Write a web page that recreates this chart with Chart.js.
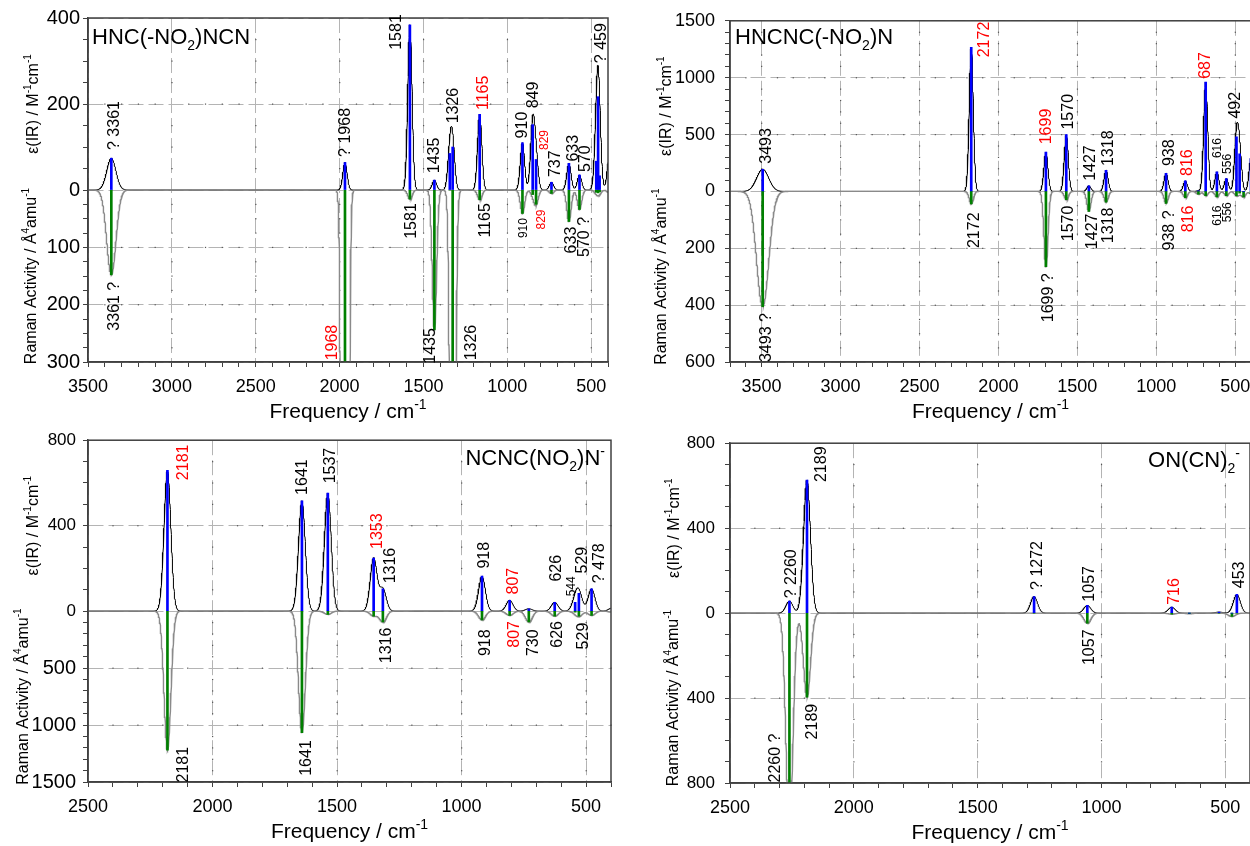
<!DOCTYPE html>
<html>
<head>
<meta charset="utf-8">
<script src="https://cdn.jsdelivr.net/npm/chart.js@4.4.0/dist/chart.umd.min.js"></script>
<style>
  html, body { margin: 0; padding: 0; background: #fff; }
  body { width: 1250px; height: 846px; overflow: hidden; position: relative; }
  .panel { position: absolute; }
</style>
</head>
<body>
<div class="panel" style="left:0;top:0"><canvas id="p1" width="625" height="423"></canvas></div>
<div class="panel" style="left:625px;top:0"><canvas id="p2" width="630" height="423"></canvas></div>
<div class="panel" style="left:0;top:423px"><canvas id="p3" width="625" height="423"></canvas></div>
<div class="panel" style="left:625px;top:423px"><canvas id="p4" width="630" height="423"></canvas></div>
<script>
const FONT = '"Liberation Sans", Arial, sans-serif';
const GRID = '#b4b4b4';
const AXIS = '#404040';
const BLUE = '#0000ff';
const GREEN = '#008000';
const RED = '#ff0000';

// ---- HNC(-NO2)NCN : band positions (cm-1), IR intensity, Raman activity
const freq1  = [3361, 1968, 1581, 1435, 1343, 1326, 1165, 910, 849, 829, 737, 633, 570, 470, 459, 450, 392];
const ir1    = [74, 64, 384, 23, 85, 100, 176, 110, 152, 71, 18, 62, 35, 67, 217, 33, 78];
const raman1 = [148, 4500, 16, 244, 0, 1200, 17, 41, 8, 25, 6, 55, 34, 4, 5, 3, 5];
const fwhm1 = 30, fwhmNH1 = 64;

// ---- HNCNC(-NO2)N
const freq2  = [3493, 2172, 1699, 1570, 1427, 1318, 938, 816, 733, 687, 616, 556, 492, 472, 447, 400];
const ir2    = [195, 1267, 345, 499, 49, 186, 159, 93, 6, 962, 171, 113, 480, 330, 0, 290];
const raman2 = [405, 44, 265, 29, 70, 38, 42, 22, 10, 15, 19, 15, 15, 6, 19, 8];
const fwhm2 = 30, fwhmNH2 = 90;

// ---- NCNC(NO2)N-
const freq3  = [2181, 1641, 1537, 1353, 1316, 918, 807, 730, 626, 544, 529, 478, 395];
const ir3    = [659, 516, 552, 248, 104, 164, 51, 11, 41, 41, 83, 104, 15];
const raman3 = [1221, 1067, 29, 44, 96, 78, 38, 96, 44, 10, 44, 38, 10];
const fwhm3 = 32;

// ---- ON(CN)2-
const freq4  = [2260, 2189, 1272, 1057, 716, 645, 525, 473, 453];
const ir4    = [57, 626, 78, 36, 28, 0, 5, 0, 88];
const raman4 = [1013, 396, 0, 47, 5, 3, 0, 16, 0];
const fwhm4 = 33;

// band labels: [frequency, value where the text starts, text, flags]  r = red, s = small
const irLabels1 = [[3351, 93, '? 3361'], [1970, 77, '? 1968'], [1671, 326, '1581'], [1439, 39, '1435'],
  [1330, 155, '1326'], [1147, 186, '1165', 'r'], [920, 120, '910'], [849, 190, '849'], [784, 93, '829', 'rs'],
  [720, 30, '737'], [615, 66, '633'], [542, 42, '570'], [446, 295, '? 459']];
const ramanLabels1 = [[3351, 160, '3361 ?'], [2049, 235, '1968', 'r'], [1577, 23, '1581'], [1468, 241, '1435'],
  [1224, 235, '1326'], [1135, 23, '1165'], [907, 49, '910', 's'], [799, 34, '829', 'rs'], [627, 64, '633'],
  [546, 47, '570 ?']];

const irLabels2 = [[3478, 243, '3493'], [2095, 1179, '2172', 'r'], [1704, 414, '1699', 'r'], [1567, 544, '1570'],
  [1425, 93, '1427'], [1313, 223, '1318'], [926, 223, '938'], [810, 136, '816', 'r'], [696, 990, '687', 'r'],
  [620, 293, '616', 's'], [553, 154, '556', 's'], [504, 640, '492']];
const ramanLabels2 = [[3478, 428, '3493 ?'], [2158, 74, '2172'], [1693, 288, '1699 ?'], [1563, 50, '1570'],
  [1414, 78, '1427'], [1313, 57, '1318'], [923, 67, '938 ?'], [806, 50, '816', 'r'], [620, 50, '616', 's'],
  [553, 38, '556', 's']];

const irLabels3 = [[2120, 613, '2181', 'r'], [1642, 544, '1641'], [1531, 598, '1537'], [1343, 291, '1353', 'r'],
  [1290, 130, '1316'], [915, 199, '918'], [798, 78, '807', 'r'], [622, 138, '626'], [561, 69, '544', 's'],
  [521, 176, '529'], [453, 130, '? 478']];
const ramanLabels3 = [[2120, 1192, '2181'], [1628, 1133, '1641'], [1307, 145, '1316'], [908, 160, '918'],
  [794, 87, '807', 'r'], [718, 160, '730'], [618, 87, '626'], [517, 102, '529']];

const irLabels4 = [[2257, 70, '? 2260'], [2136, 617, '2189'], [1263, 109, '? 1272'], [1052, 54, '1057'],
  [709, 39, '716', 'r'], [446, 117, '453']];
const ramanLabels4 = [[2321, 567, '2260 ?'], [2173, 427, '2189'], [1052, 77, '1057']];

const titleIR = [['\u03b5(IR) / M', 0], ['-1', 1], ['cm', 0], ['-1', 1]];
const titleRaman = [['Raman Activity / \u00c5', 0], ['4', 1], ['amu', 0], ['-1', 1]];
const titleFreq = [['Frequency / cm', 0], ['-1', 1]];

function font(size) { return size + 'px ' + FONT; }

// text with sub/superscripts, parts = [[text, shift]], shift 1 = sup, -1 = sub
function drawRich(ctx, x, y, parts, size, align) {
  const small = Math.round(size * 0.65);
  let w = 0;
  parts.forEach(([t, s]) => { ctx.font = font(s ? small : size); w += ctx.measureText(t).width; });
  let cx = align === 'center' ? x - w / 2 : align === 'right' ? x - w : x;
  ctx.textAlign = 'left';
  ctx.textBaseline = 'alphabetic';
  parts.forEach(([t, s]) => {
    ctx.font = font(s ? small : size);
    const dy = s > 0 ? -size * 0.42 : s < 0 ? size * 0.28 : 0;
    ctx.fillText(t, cx, y + dy);
    cx += ctx.measureText(t).width;
  });
}

function drawVertical(ctx, px, py, text, flag, align) {
  const size = flag.includes('s') ? 12 : 16;
  ctx.save();
  ctx.translate(px, py);
  ctx.rotate(-Math.PI / 2);
  ctx.font = font(size);
  ctx.fillStyle = flag.includes('r') ? RED : '#000';
  ctx.textAlign = align;
  ctx.textBaseline = 'alphabetic';
  ctx.fillText(text, 0, size * 0.36);
  ctx.restore();
}

// broadened spectrum: gaussian bands summed over the stick list
function envelope(freq, vals, fwhm, fwhmNH, lo, hi, sign) {
  const pts = [];
  for (let x = lo; x <= hi; x += 1) {
    let s = 0;
    freq.forEach((f, i) => {
      const w = (f > 3000 && fwhmNH) ? fwhmNH : fwhm;
      const sig = w / 2.3548;
      s += vals[i] * Math.exp(-((x - f) * (x - f)) / (2 * sig * sig));
    });
    pts.push({x: x, y: sign * s});
  }
  return pts;
}

function decor(p) {
  return {
    id: 'decor',
    beforeDatasetsDraw(chart) {
      // small dots where minor ticks cross the major grid lines
      const {ctx, chartArea: a, scales: {x, y}} = chart;
      ctx.save();
      ctx.fillStyle = '#555';
      const xt = x.ticks, yt = y.ticks;
      xt.filter(t => t.isMajor).forEach(tx => {
        const px = x.getPixelForValue(tx.value);
        if (px <= a.left + 1 || px >= a.right - 1) return;
        yt.filter(t => !t.isMajor).forEach(ty => ctx.fillRect(px - 0.5, y.getPixelForValue(ty.value) - 0.5, 1.2, 1.2));
      });
      yt.filter(t => t.isMajor && t.value !== 0).forEach(ty => {
        const py = y.getPixelForValue(ty.value);
        if (py <= a.top + 1 || py >= a.bottom - 1) return;
        xt.filter(t => !t.isMajor).forEach(tx => ctx.fillRect(x.getPixelForValue(tx.value) - 0.5, py - 0.5, 1.2, 1.2));
      });
      ctx.restore();
    },
    afterDatasetsDraw(chart) {
      const {ctx, chartArea: a, scales: {x, y, yR}} = chart;
      ctx.save();
      ctx.strokeStyle = AXIS;
      ctx.lineWidth = 1.5;
      ctx.strokeRect(a.left, a.top, a.right - a.left, a.bottom - a.top);

      p.irLabels.forEach(([f, v, text, flag = '']) =>
        drawVertical(ctx, x.getPixelForValue(f), y.getPixelForValue(v), text, flag, 'left'));
      p.ramanLabels.forEach(([f, v, text, flag = '']) =>
        drawVertical(ctx, x.getPixelForValue(f), yR.getPixelForValue(-v), text, flag, 'right'));

      ctx.fillStyle = '#000';
      drawRich(ctx, p.titlePos[0], p.titlePos[1], p.title, 22, p.titlePos[2]);

      const zero = y.getPixelForValue(0);
      [[titleIR, p.yTitleX[0], (a.top + zero) / 2], [titleRaman, p.yTitleX[1], (zero + a.bottom) / 2]]
        .forEach(([parts, tx, ty]) => {
          ctx.save();
          ctx.translate(tx, ty);
          ctx.rotate(-Math.PI / 2);
          drawRich(ctx, 0, 6, parts, 16, 'center');
          ctx.restore();
        });
      drawRich(ctx, (a.left + a.right) / 2, a.bottom + 56, titleFreq, 21, 'center');
      ctx.restore();
    }
  };
}

function makePanel(p) {
  const canvas = document.getElementById(p.id);
  const W = canvas.width, H = canvas.height;
  const a = p.area;
  const k = p.irMax / p.ramanMax;

  const yTicks = [];
  for (let v = 0; v <= p.irMax; v += p.irStep) yTicks.push({value: v, isMajor: p.irMajor.includes(v)});
  for (let r = p.ramanStep; r <= p.ramanMax; r += p.ramanStep)
    yTicks.push({value: -r * k, isMajor: p.ramanMajor.includes(r), raman: r});
  yTicks.sort((m, n) => m.value - n.value);

  const xTicks = [];
  for (let f = p.xMin; f <= p.xMax; f += 100) xTicks.push({value: f, isMajor: f % 500 === 0});

  // grid lines only on the major ticks, tick marks on all of them
  const grid = {
    color: c => (c.tick && c.tick.isMajor) ? GRID : 'transparent',
    tickColor: AXIS, tickLength: 5, lineWidth: 1, offset: false
  };
  const border = {display: true, color: AXIS, width: 1.5, dash: [15, 5]};

  new Chart(canvas, {
    type: 'line',
    data: {
      datasets: [
        {type: 'bar', data: p.freq.map((f, i) => ({x: f, y: p.ir[i]})), backgroundColor: BLUE,
         barThickness: 2, stack: 'sticks', yAxisID: 'y', order: 0},
        {type: 'bar', data: p.freq.map((f, i) => ({x: f, y: -p.raman[i]})), backgroundColor: GREEN,
         barThickness: 2, stack: 'sticks', yAxisID: 'yR', order: 1},
        {data: envelope(p.freq, p.raman, p.fwhm, p.fwhmNH, p.xMin, p.xMax, -1), borderColor: '#8a8a8a',
         borderWidth: 1.4, pointRadius: 0, tension: 0, yAxisID: 'yR', order: 2},
        {data: envelope(p.freq, p.ir, p.fwhm, p.fwhmNH, p.xMin, p.xMax, 1), borderColor: '#000',
         borderWidth: 1, pointRadius: 0, tension: 0, yAxisID: 'y', order: 3}
      ]
    },
    options: {
      responsive: false,
      animation: false,
      devicePixelRatio: 1,
      events: [],
      layout: {padding: {left: 0, top: a.top, right: W - a.right, bottom: 0}},
      plugins: {legend: {display: false}, tooltip: {enabled: false}},
      scales: {
        x: {
          type: 'linear', reverse: true, min: p.xMin, max: p.xMax, offset: false,
          afterBuildTicks: s => { s.ticks = xTicks.map(t => Object.assign({}, t)); },
          afterFit: s => { s.height = H - a.bottom; },
          ticks: {autoSkip: false, maxRotation: 0, padding: 9, color: '#000', font: {family: FONT, size: 18},
                  callback: (v, i, ts) => ts[i].isMajor ? String(v) : ''},
          grid: grid, border: border
        },
        y: {
          type: 'linear', min: -p.irMax, max: p.irMax,
          afterBuildTicks: s => { s.ticks = yTicks.map(t => Object.assign({}, t)); },
          afterFit: s => { s.width = a.left; },
          ticks: {autoSkip: false, padding: p.tickPad, color: '#000',
                  font: c => ({family: FONT, size: (c.tick && c.tick.raman) ? p.tickFont[1] : p.tickFont[0]}),
                  callback: (v, i, ts) => ts[i].isMajor ? String(ts[i].raman || v) : ''},
          grid: grid, border: border
        },
        yR: {type: 'linear', display: false, min: -p.ramanMax, max: p.ramanMax}
      }
    },
    plugins: [decor(p)]
  });
}

makePanel({
  id: 'p1', freq: freq1, ir: ir1, raman: raman1, fwhm: fwhm1, fwhmNH: fwhmNH1,
  xMin: 400, xMax: 3500, irMax: 400, irStep: 50, irMajor: [0, 200, 400],
  ramanMax: 300, ramanStep: 25, ramanMajor: [100, 200, 300],
  irLabels: irLabels1, ramanLabels: ramanLabels1,
  title: [['HNC(-NO', 0], ['2', -1], [')NCN', 0]], titlePos: [92, 44, 'left'],
  area: {left: 88, top: 18, right: 608, bottom: 362}, tickPad: 3, tickFont: [20, 20], yTitleX: [32, 30]
});

makePanel({
  id: 'p2', freq: freq2, ir: ir2, raman: raman2, fwhm: fwhm2, fwhmNH: fwhmNH2,
  xMin: 400, xMax: 3700, irMax: 1500, irStep: 100, irMajor: [0, 500, 1000, 1500],
  ramanMax: 600, ramanStep: 50, ramanMajor: [200, 400, 600],
  irLabels: irLabels2, ramanLabels: ramanLabels2,
  title: [['HNCNC(-NO', 0], ['2', -1], [')N', 0]], titlePos: [110, 44, 'left'],
  area: {left: 105, top: 18, right: 626, bottom: 362}, tickPad: 10, tickFont: [18, 18], yTitleX: [40, 35]
});

makePanel({
  id: 'p3', freq: freq3, ir: ir3, raman: raman3, fwhm: fwhm3, fwhmNH: 0,
  xMin: 400, xMax: 2500, irMax: 800, irStep: 100, irMajor: [0, 400, 800],
  ramanMax: 1500, ramanStep: 100, ramanMajor: [500, 1000, 1500],
  irLabels: irLabels3, ramanLabels: ramanLabels3,
  title: [['NCNC(NO', 0], ['2', -1], [')N', 0], ['-', 1]], titlePos: [605, 42, 'right'],
  area: {left: 88, top: 14, right: 611, bottom: 359}, tickPad: 7, tickFont: [17, 20], yTitleX: [32, 22]
});

makePanel({
  id: 'p4', freq: freq4, ir: ir4, raman: raman4, fwhm: fwhm4, fwhmNH: 0,
  xMin: 400, xMax: 2500, irMax: 800, irStep: 100, irMajor: [0, 400, 800],
  ramanMax: 800, ramanStep: 100, ramanMajor: [400, 800],
  irLabels: irLabels4, ramanLabels: ramanLabels4,
  title: [['ON(CN)', 0], ['2', -1], ['-', 1]], titlePos: [615, 44, 'right'],
  area: {left: 105, top: 17, right: 625, bottom: 360}, tickPad: 10, tickFont: [17, 17], yTitleX: [48, 47]
});
</script>
</body>
</html>
